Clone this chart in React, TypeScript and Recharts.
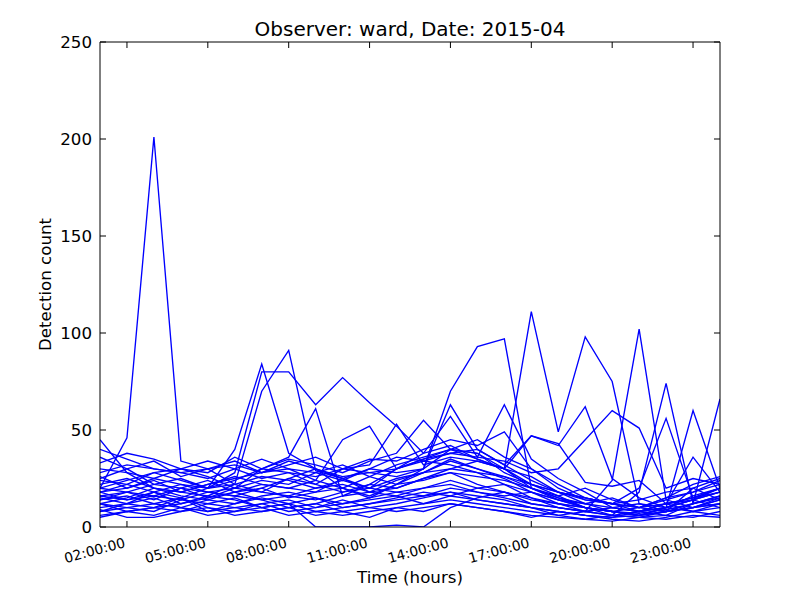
import React from "react";
import { LineChart, Line, XAxis, YAxis } from "recharts";

// x positions: hour of day (1 = 01:00 ... 24 = 00:00 next day)
const hours = [1, 2, 3, 4, 5, 6, 7, 8, 9, 10, 11, 12, 13, 14, 15, 16, 17, 18, 19, 20, 21, 22, 23, 24];
const xTicks = [2, 5, 8, 11, 14, 17, 20, 23];
const xTickLabels = ["02:00:00", "05:00:00", "08:00:00", "11:00:00", "14:00:00", "17:00:00", "20:00:00", "23:00:00"];
const yTicks = [0, 50, 100, 150, 200, 250];

const d1 = [20, 46, 201, 34, 30, 22, 18, 25, 30, 20, 15, 22, 28, 35, 30, 25, 18, 12, 10, 8, 6, 10, 14, 18];
const d2 = [15, 12, 18, 22, 20, 40, 84, 38, 30, 25, 20, 30, 35, 40, 38, 30, 20, 15, 12, 10, 8, 12, 15, 20];
const d3 = [18, 22, 28, 24, 20, 28, 80, 80, 63, 77, 64, 52, 38, 42, 35, 30, 22, 18, 14, 12, 10, 15, 18, 22];
const d4 = [12, 15, 20, 18, 16, 22, 70, 91, 29, 25, 18, 20, 25, 30, 28, 22, 15, 12, 10, 8, 7, 9, 12, 15];
const d5 = [25, 30, 22, 20, 18, 20, 30, 36, 61, 16, 22, 30, 35, 38, 40, 32, 24, 18, 15, 12, 10, 12, 15, 18];
const d6 = [10, 12, 15, 10, 8, 12, 15, 12, 0, 0, 0, 1, 0, 10, 15, 18, 12, 10, 8, 6, 5, 8, 10, 12];
const d7 = [14, 18, 16, 20, 15, 18, 22, 20, 18, 25, 30, 28, 30, 70, 93, 97, 20, 14, 10, 8, 6, 8, 10, 14];
const d8 = [22, 25, 20, 18, 22, 25, 28, 30, 24, 20, 26, 32, 36, 40, 35, 30, 111, 49, 98, 75, 12, 8, 10, 15];
const d9 = [8, 10, 12, 15, 10, 8, 12, 14, 10, 12, 15, 18, 20, 22, 18, 15, 12, 10, 8, 24, 102, 14, 10, 12];
const d10 = [16, 14, 18, 12, 15, 20, 18, 16, 14, 18, 22, 20, 25, 28, 22, 18, 15, 10, 8, 6, 18, 74, 12, 16];
const d11 = [30, 28, 25, 30, 34, 30, 25, 28, 22, 30, 35, 34, 40, 45, 42, 49, 30, 22, 15, 12, 20, 56, 15, 20];
const d12 = [6, 8, 10, 8, 12, 10, 8, 10, 12, 8, 10, 12, 15, 18, 16, 14, 10, 8, 6, 5, 6, 10, 60, 20];
const d13 = [12, 10, 8, 14, 12, 15, 10, 12, 15, 10, 12, 15, 18, 16, 14, 12, 10, 8, 6, 5, 8, 6, 12, 66];
const d14 = [20, 18, 22, 25, 20, 22, 26, 24, 20, 22, 18, 24, 28, 30, 34, 30, 47, 42, 62, 25, 15, 10, 14, 18];
const d15 = [28, 32, 30, 28, 25, 30, 35, 30, 28, 24, 30, 36, 34, 38, 36, 34, 28, 30, 45, 60, 51, 20, 25, 22];
const d16 = [45, 28, 20, 16, 14, 18, 20, 15, 18, 20, 16, 22, 30, 63, 40, 32, 47, 43, 23, 21, 24, 12, 8, 10];
const d17 = [40, 35, 30, 28, 30, 32, 28, 34, 30, 26, 28, 30, 38, 57, 36, 63, 35, 25, 18, 10, 8, 12, 36, 18];
const d18 = [9, 5, 5, 8, 10, 6, 8, 10, 6, 8, 5, 10, 12, 14, 12, 10, 8, 6, 4, 3, 5, 6, 5, 8];
const d19 = [18, 20, 25, 22, 18, 16, 20, 25, 22, 18, 20, 25, 28, 34, 30, 26, 20, 15, 10, 8, 10, 14, 18, 24];
const d20 = [24, 22, 18, 15, 20, 24, 30, 28, 26, 30, 32, 53, 32, 36, 34, 30, 26, 18, 12, 15, 10, 8, 20, 25];
const d21 = [14, 16, 12, 10, 14, 12, 16, 18, 15, 12, 14, 16, 20, 24, 20, 18, 14, 12, 8, 10, 12, 10, 8, 12];
const d22 = [33, 38, 35, 30, 28, 36, 30, 35, 32, 28, 34, 38, 55, 40, 45, 36, 30, 20, 14, 12, 8, 10, 16, 20];
const d23 = [8, 12, 10, 15, 8, 10, 12, 8, 10, 14, 10, 8, 10, 12, 10, 8, 6, 5, 4, 6, 5, 4, 6, 5];
const d24 = [20, 24, 28, 30, 26, 20, 24, 22, 28, 32, 26, 22, 24, 28, 26, 24, 20, 16, 20, 14, 10, 15, 22, 26];
const d25 = [16, 18, 14, 20, 24, 18, 14, 16, 20, 24, 20, 18, 16, 20, 18, 16, 18, 14, 12, 8, 6, 8, 12, 16];
const d26 = [26, 20, 24, 18, 22, 26, 22, 20, 24, 45, 52, 30, 34, 32, 28, 26, 22, 18, 15, 12, 14, 18, 20, 14];
const d27 = [5, 8, 6, 10, 6, 8, 10, 6, 8, 6, 8, 10, 8, 12, 10, 8, 5, 8, 6, 4, 3, 5, 8, 6];
const d28 = [12, 8, 10, 12, 16, 14, 10, 12, 8, 10, 12, 14, 16, 18, 14, 12, 10, 6, 8, 10, 8, 12, 14, 10];
const d29 = [36, 30, 34, 26, 30, 34, 28, 32, 36, 30, 28, 26, 30, 40, 38, 28, 22, 16, 10, 6, 8, 10, 14, 20];
const d30 = [18, 14, 16, 14, 18, 16, 14, 10, 12, 16, 18, 16, 12, 16, 20, 22, 18, 14, 10, 8, 6, 8, 10, 14];

const series = [d1, d2, d3, d4, d5, d6, d7, d8, d9, d10, d11, d12, d13, d14, d15, d16, d17, d18, d19, d20, d21, d22, d23, d24, d25, d26, d27, d28, d29, d30];

const data = hours.map((h, i) => {
  const row: Record<string, number> = { h };
  series.forEach((s, j) => {
    row["d" + (j + 1)] = s[i];
  });
  return row;
});

const FONT = "'DejaVu Sans', sans-serif";

const XTick = (props: any) => {
  const { x, y, payload } = props;
  const idx = xTicks.indexOf(payload.value);
  const label = idx >= 0 ? xTickLabels[idx] : "";
  const tx = x - 1;
  const ty = y + 20;
  return (
    <text
      x={tx}
      y={ty}
      transform={`rotate(-15 ${tx} ${ty})`}
      textAnchor="end"
      fontSize={13.9}
      fontFamily={FONT}
      fill="#000"
    >
      {label}
    </text>
  );
};

export default function App() {
  return (
    <div style={{ position: "absolute", left: 0, top: 0, width: 800, height: 600, background: "#fff" }}>
      <LineChart
        width={800}
        height={600}
        data={data}
        margin={{ top: 41, right: 79, bottom: 23, left: 40 }}
      >
        <XAxis
          dataKey="h"
          type="number"
          domain={[1, 24]}
          ticks={xTicks}
          allowDataOverflow
          height={50}
          axisLine={{ stroke: "#000", strokeWidth: 1 }}
          tickLine={{ stroke: "#000" }}
          tickSize={-6}
          tickMargin={6}
          tick={<XTick />}
          interval={0}
        />
        <XAxis
          xAxisId="top"
          dataKey="h"
          type="number"
          orientation="top"
          domain={[1, 24]}
          ticks={xTicks}
          allowDataOverflow
          height={1}
          axisLine={{ stroke: "#000", strokeWidth: 1 }}
          tickLine={{ stroke: "#000" }}
          tickSize={-6}
          tickFormatter={() => ""}
          interval={0}
        />
        <YAxis
          type="number"
          domain={[0, 250]}
          ticks={yTicks}
          allowDataOverflow
          width={60}
          axisLine={{ stroke: "#000", strokeWidth: 1 }}
          tickLine={{ stroke: "#000" }}
          tickSize={-6}
          tickMargin={14}
          tick={{ fontSize: 16.67, fill: "#000", fontFamily: FONT }}
          interval={0}
        />
        <YAxis
          yAxisId="right"
          type="number"
          orientation="right"
          domain={[0, 250]}
          ticks={yTicks}
          allowDataOverflow
          width={1}
          axisLine={{ stroke: "#000", strokeWidth: 1 }}
          tickLine={{ stroke: "#000" }}
          tickSize={-6}
          tickFormatter={() => ""}
          interval={0}
        />
        {series.map((_, j) => (
          <Line
            key={j}
            type="linear"
            dataKey={"d" + (j + 1)}
            stroke="#0000ff"
            strokeWidth={1.35}
            dot={false}
            activeDot={false}
            isAnimationActive={false}
          />
        ))}
        <Line
          xAxisId="top"
          yAxisId="right"
          type="linear"
          dataKey="d1"
          stroke="none"
          dot={false}
          activeDot={false}
          legendType="none"
          isAnimationActive={false}
        />
      </LineChart>
      <svg
        width={800}
        height={600}
        style={{ position: "absolute", left: 0, top: 0, pointerEvents: "none" }}
      >
        <text x={410} y={35.5} textAnchor="middle" fontSize={20} fontFamily={FONT} fill="#000">
          Observer: ward, Date: 2015-04
        </text>
        <text x={410} y={583} textAnchor="middle" fontSize={16.67} fontFamily={FONT} fill="#000">
          Time (hours)
        </text>
        <text
          x={51}
          y={284.5}
          transform="rotate(-90 51 284.5)"
          textAnchor="middle"
          fontSize={16.67}
          fontFamily={FONT}
          fill="#000"
        >
          Detection count
        </text>
      </svg>
    </div>
  );
}
